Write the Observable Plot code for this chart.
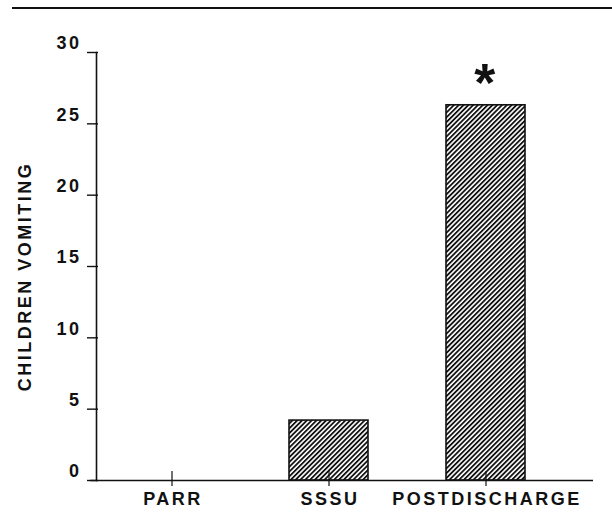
<!DOCTYPE html>
<html>
<head>
<meta charset="utf-8">
<script src="https://cdn.jsdelivr.net/npm/d3@7"></script>
<script src="https://cdn.jsdelivr.net/npm/@observablehq/plot@0.6"></script>
<style>
  html, body { margin: 0; padding: 0; background: #fff; overflow: hidden; }
  #wrap { position: relative; width: 612px; height: 513px; }
  #topline { position: absolute; left: 12px; top: 7px; width: 600px; height: 0; border-top: 2px solid #111; }
  #chart { position: absolute; left: 0; top: 0; }
</style>
</head>
<body>
<div id="wrap">
  <div id="chart"></div>
  <div id="topline"></div>
</div>
<script>
const categories = ["PARR", "SSSU", "POSTDISCHARGE"];
const values = [0, 4.2, 26.3];
const yTicks = [0, 5, 10, 15, 20, 25, 30];
const yLabel = "CHILDREN VOMITING";
const significance = [{category: "POSTDISCHARGE", value: 26.3, label: "*"}];

const data = categories.map((c, i) => ({category: c, value: values[i]}));

const font = "'Liberation Sans', Arial, Helvetica, sans-serif";

const plot = Plot.plot({
  width: 612,
  height: 513,
  marginLeft: 96,
  marginRight: 19,
  marginTop: 52,
  marginBottom: 33,
  style: {fontFamily: font, fontSize: "18px", fontWeight: "bold", letterSpacing: "2.5px", color: "#111", background: "#fff"},
  x: {domain: categories, paddingInner: 0.5, paddingOuter: 0.325, align: 0.346, label: null},
  y: {domain: [0, 30], label: null},
  marks: [
    Plot.barY(data, {x: "category", y: "value", fill: "url(#hatch)", stroke: "#111", strokeWidth: 1.6}),
    Plot.ruleY([0], {stroke: "#111", strokeWidth: 1.6, insetLeft: -6}),
    Plot.frame({anchor: "left", stroke: "#111", strokeWidth: 1.6}),
    Plot.axisY(yTicks, {tickSize: 11, dx: 2, fill: "none", stroke: "#111", strokeWidth: 1.4, label: null}),
    Plot.axisY(yTicks, {tickSize: 0, tickPadding: 15, dy: -9, label: null, fill: "#111", fontSize: 18, fontWeight: "bold"}),
    Plot.axisX({tickSize: 15, dy: -9, fill: "none", stroke: "#111", strokeWidth: 1.2, label: null}),
    Plot.axisX({tickSize: 0, tickPadding: 12, dx: 1, label: null, fill: "#111", fontSize: 18, fontWeight: "bold"}),
    Plot.text([yLabel], {frameAnchor: "left", text: d => d, rotate: -90, textAnchor: "middle", dx: -71, dy: 10, fontSize: 18, fontWeight: "bold", fill: "#111"}),
    Plot.text(significance, {x: "category", y: "value", text: "label", dy: -22, fontSize: 54, fontWeight: "bold", fill: "#111", style: {letterSpacing: "0px"}})
  ]
});

// hatch pattern for the bars
const svg = d3.select(plot);
const defs = svg.insert("defs", ":first-child");
const pat = defs.append("pattern")
  .attr("id", "hatch")
  .attr("patternUnits", "userSpaceOnUse")
  .attr("width", 3.4)
  .attr("height", 3.4)
  .attr("patternTransform", "rotate(45)");
pat.append("rect").attr("width", 3.4).attr("height", 3.4).attr("fill", "#fff");
pat.append("line").attr("x1", 0.9).attr("y1", 0).attr("x2", 0.9).attr("y2", 3.4)
  .attr("stroke", "#111").attr("stroke-width", 1.8);

document.getElementById("chart").appendChild(plot);
</script>
</body>
</html>
